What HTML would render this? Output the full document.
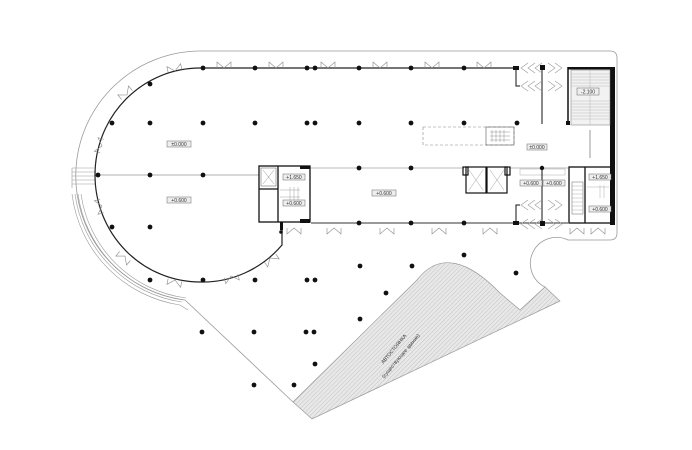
<!DOCTYPE html>
<html><head><meta charset="utf-8"><style>
html,body{margin:0;padding:0;background:#fff;width:692px;height:450px;overflow:hidden}
svg{display:block}
text{font-family:"Liberation Sans","DejaVu Sans",sans-serif;font-size:5px;fill:#333}
.lb{fill:#eee;stroke:#666;stroke-width:0.5}
</style></head><body>
<svg width="692" height="450" viewBox="0 0 692 450" xmlns="http://www.w3.org/2000/svg">
<defs>
<pattern id="h" width="3" height="3" patternUnits="userSpaceOnUse" patternTransform="rotate(45)">
<rect width="3" height="3" fill="#e8e8e8"/><line x1="0" y1="0" x2="0" y2="3" stroke="#bbb" stroke-width="0.8"/>
</pattern>
<g id="d"><polyline points="-7,0 -7,-6 0,0 7,-6 7,0" fill="none" stroke="#888" stroke-width="0.6"/></g>
</defs>

<path d="M185,300 A125,125 0 0 1 200,51 L610,51 Q617,51 617,58 L617,233 Q617,240 610,240 L568,240 A23,23 0 0 0 545,287" fill="none" stroke="#999" stroke-width="0.8"/>
<path d="M185,300 L293,402" fill="none" stroke="#999" stroke-width="0.8"/>
<g fill="none" stroke="#999" stroke-width="0.6">
<path d="M72,168 L94,168 M72,172 L96,172 M72,176 L96,176 M72,180 L96,180 M72,184 L96,184 M72,168 L72,188"/>
<path d="M72,194 A128,128 0 0 0 180,305"/>
<path d="M75,194 A126,126 0 0 0 182,302"/>
<path d="M78,194 A124,124 0 0 0 184,300"/>
<path d="M81,194 A122,122 0 0 0 186,298"/>
<path d="M180,305 L188,310"/>
</g>

<path d="M293,402 L312,419 L560,301 L545,287 L520,310 L500,293 C470,262 440,250 417,280 Z" fill="url(#h)" stroke="#999" stroke-width="0.7"/>
<text transform="translate(395,350) rotate(-50)" text-anchor="middle">АВТОСТОЯНКА</text>
<text transform="translate(402,357) rotate(-50)" text-anchor="middle">(существующее здание)</text>

<path d="M200,68 L514,68 M200,68 A105,107 0 0 0 200,282 A105,107 0 0 0 282,245 L282,226" fill="none" stroke="#222" stroke-width="1.2"/>
<line x1="96" y1="175" x2="259" y2="175" stroke="#666" stroke-width="0.6"/>
<line x1="311" y1="168" x2="464" y2="168" stroke="#777" stroke-width="0.6"/>
<line x1="509" y1="168" x2="568" y2="168" stroke="#777" stroke-width="0.6"/>
<line x1="311" y1="223" x2="568" y2="223" stroke="#333" stroke-width="1"/>
<rect x="300" y="219" width="10" height="4" fill="#111"/>
<rect x="300" y="166" width="10" height="3" fill="#111"/>
<g fill="none" stroke="#111" stroke-width="1.3">
<rect x="259" y="166" width="51" height="56"/>
<line x1="278" y1="166" x2="278" y2="222"/>
<line x1="259" y1="189" x2="278" y2="189"/>
</g>
<rect x="261" y="168" width="15" height="18" fill="none" stroke="#555" stroke-width="0.5"/>
<path d="M263,170 L274,184 M274,170 L263,184" stroke="#777" stroke-width="0.4"/>
<g stroke="#888" stroke-width="0.4"><line x1="280" y1="190" x2="300" y2="190"/><line x1="280" y1="197" x2="300" y2="197"/><line x1="290" y1="187" x2="290" y2="200"/><line x1="294" y1="187" x2="294" y2="200"/><line x1="298" y1="187" x2="298" y2="200"/></g>
<rect x="280" y="222" width="3" height="8" fill="#111"/>
<rect x="283" y="174" width="22" height="6" class="lb"/><text x="294" y="179" text-anchor="middle">+1.650</text>
<rect x="283" y="200" width="22" height="6" class="lb"/><text x="294" y="205" text-anchor="middle">+0.600</text>

<g fill="none" stroke="#111" stroke-width="1.2"><rect x="466" y="167" width="20" height="26"/><rect x="487" y="167" width="20" height="26"/><rect x="463" y="167" width="5" height="8"/><rect x="505" y="167" width="5" height="8"/></g>
<path d="M469,170 L483,190 M483,170 L469,190 M490,170 L504,190 M504,170 L490,190" stroke="#888" stroke-width="0.4"/>
<rect x="423" y="127" width="91" height="18" fill="none" stroke="#888" stroke-width="0.6" stroke-dasharray="3,2"/>
<rect x="486" y="127" width="28" height="18" fill="none" stroke="#555" stroke-width="0.6"/>
<g stroke="#777" stroke-width="0.4"><line x1="490" y1="132" x2="510" y2="132"/><line x1="490" y1="136" x2="510" y2="136"/><line x1="490" y1="140" x2="510" y2="140"/><line x1="492" y1="130" x2="492" y2="142"/><line x1="496" y1="130" x2="496" y2="142"/><line x1="500" y1="130" x2="500" y2="142"/><line x1="504" y1="130" x2="504" y2="142"/></g>
<rect x="520" y="169" width="45" height="6" fill="none" stroke="#999" stroke-width="0.4"/>

<g stroke="#111" fill="none" stroke-width="1">
<line x1="542" y1="67" x2="542" y2="124"/><line x1="542" y1="167" x2="542" y2="224"/>
<path d="M516,68 L516,86 L520,86"/><path d="M516,224 L516,205 L520,205"/>
</g>
<rect x="513" y="66" width="6" height="4" fill="#111"/><rect x="513" y="221" width="6" height="4" fill="#111"/>
<g stroke="#999" stroke-width="0.6" fill="none">
<path d="M528,63 L521,68 L528,73 M535,63 L528,68 L535,73 M542,63 L535,68 L542,73 M548,63 L555,68 L548,73 M555,63 L562,68 L555,73"/>
<path d="M528,81 L521,86 L528,91 M535,81 L528,86 L535,91 M542,81 L535,86 L542,91 M548,81 L555,86 L548,91 M555,81 L562,86 L555,91"/>
<path d="M528,200 L521,205 L528,210 M535,200 L528,205 L535,210 M542,200 L535,205 L542,210 M548,200 L555,205 L548,210 M555,200 L562,205 L555,210"/>
<path d="M528,219 L521,224 L528,229 M535,219 L528,224 L535,229 M542,219 L535,224 L542,229 M548,219 L555,224 L548,229 M555,219 L562,224 L555,229"/>
</g>
<rect x="540" y="65" width="5" height="5" fill="#111"/><rect x="540" y="221" width="5" height="5" fill="#111"/>
<circle cx="542" cy="168" r="2.2" fill="#111"/>
<rect x="520" y="180" width="22" height="6" class="lb"/><text x="531" y="185" text-anchor="middle">+0.600</text>
<rect x="543" y="180" width="22" height="6" class="lb"/><text x="554" y="185" text-anchor="middle">+0.600</text>
<rect x="527" y="144" width="20" height="6" class="lb"/><text x="537" y="149" text-anchor="middle">±0.000</text>

<rect x="568" y="67" width="45" height="2.5" fill="#111"/>
<rect x="610" y="67" width="5" height="158" fill="#111"/>
<line x1="568" y1="67" x2="568" y2="125" stroke="#111" stroke-width="1.5"/>
<rect x="566" y="121" width="4" height="4" fill="#111"/>
<rect x="571" y="70" width="39" height="55" fill="#f2f2f2" stroke="#777" stroke-width="0.5"/>
<g stroke="#aaa" stroke-width="0.4">
<line x1="571" y1="74" x2="610" y2="74"/><line x1="571" y1="77" x2="610" y2="77"/><line x1="571" y1="80" x2="610" y2="80"/><line x1="571" y1="83" x2="610" y2="83"/><line x1="571" y1="86" x2="610" y2="86"/>
<line x1="571" y1="101" x2="610" y2="101"/><line x1="571" y1="104" x2="610" y2="104"/><line x1="571" y1="107" x2="610" y2="107"/><line x1="571" y1="110" x2="610" y2="110"/><line x1="571" y1="113" x2="610" y2="113"/><line x1="571" y1="116" x2="610" y2="116"/><line x1="571" y1="119" x2="610" y2="119"/><line x1="590" y1="70" x2="590" y2="125"/>
</g>
<rect x="577" y="88" width="22" height="7" class="lb"/><text x="588" y="93.5" text-anchor="middle">-2.100</text>
<line x1="590" y1="130" x2="590" y2="158" stroke="#555" stroke-width="0.6"/>
<g fill="none" stroke="#111" stroke-width="1.3"><rect x="569" y="167" width="42" height="56"/><line x1="585" y1="167" x2="585" y2="223"/></g>
<rect x="572" y="182" width="11" height="32" fill="none" stroke="#666" stroke-width="0.5"/>
<g stroke="#999" stroke-width="0.4"><line x1="572" y1="186" x2="583" y2="186"/><line x1="572" y1="190" x2="583" y2="190"/><line x1="572" y1="194" x2="583" y2="194"/><line x1="572" y1="198" x2="583" y2="198"/><line x1="572" y1="202" x2="583" y2="202"/><line x1="572" y1="206" x2="583" y2="206"/><line x1="572" y1="210" x2="583" y2="210"/><line x1="587" y1="187" x2="609" y2="187"/><line x1="600" y1="185" x2="600" y2="198"/><line x1="604" y1="185" x2="604" y2="198"/></g>
<rect x="589" y="174" width="22" height="6" class="lb"/><text x="600" y="179" text-anchor="middle">+1.650</text>
<rect x="589" y="206" width="22" height="6" class="lb"/><text x="600" y="211" text-anchor="middle">+0.600</text>

<rect x="167" y="141" width="24" height="6" class="lb"/><text x="179" y="146" text-anchor="middle">±0.000</text>
<rect x="167" y="197" width="24" height="6" class="lb"/><text x="179" y="202" text-anchor="middle">+0.600</text>
<rect x="372" y="190" width="24" height="6" class="lb"/><text x="384" y="195" text-anchor="middle">+0.600</text>

<g stroke="#888" stroke-width="0.6" fill="none">
<use href="#d" x="224" y="68"/><use href="#d" x="276" y="68"/><use href="#d" x="328" y="68"/><use href="#d" x="380" y="68"/><use href="#d" x="432" y="68"/><use href="#d" x="484" y="68"/>
<use href="#d" transform="translate(175,71) rotate(-12)"/>
<use href="#d" transform="translate(127,95) rotate(-40)"/>
<use href="#d" transform="translate(102,146) rotate(-75)"/>
<use href="#d" transform="translate(102,206) rotate(-105)"/>
<use href="#d" transform="translate(125,256) rotate(-140)"/>
<use href="#d" transform="translate(175,280) rotate(-168)"/>
<use href="#d" transform="translate(231,276) rotate(-195)"/>
<use href="#d" transform="translate(270,258) rotate(-215)"/>
<use href="#d" transform="translate(294,228) rotate(180)"/>
<use href="#d" transform="translate(334,228) rotate(180)"/>
<use href="#d" transform="translate(387,228) rotate(180)"/>
<use href="#d" transform="translate(439,228) rotate(180)"/>
<use href="#d" transform="translate(490,228) rotate(180)"/>
<use href="#d" transform="translate(577,228) rotate(180)"/>
<use href="#d" transform="translate(598,228) rotate(180)"/>
</g>

<g fill="#111">
<circle cx="203" cy="68" r="2.4"/><circle cx="255" cy="68" r="2.4"/><circle cx="307" cy="68" r="2.4"/><circle cx="315" cy="68" r="2.4"/><circle cx="359" cy="68" r="2.4"/><circle cx="411" cy="68" r="2.4"/><circle cx="464" cy="68" r="2.4"/>
<circle cx="150" cy="84" r="2.4"/>
<circle cx="112" cy="123" r="2.4"/><circle cx="150" cy="123" r="2.4"/><circle cx="203" cy="123" r="2.4"/><circle cx="255" cy="123" r="2.4"/><circle cx="307" cy="123" r="2.4"/><circle cx="315" cy="123" r="2.4"/><circle cx="359" cy="123" r="2.4"/><circle cx="411" cy="123" r="2.4"/><circle cx="464" cy="123" r="2.4"/><circle cx="517" cy="123" r="2.4"/>
<circle cx="98" cy="175" r="2.4"/><circle cx="150" cy="175" r="2.4"/><circle cx="203" cy="175" r="2.4"/>
<circle cx="359" cy="168" r="2.4"/><circle cx="411" cy="168" r="2.4"/><circle cx="359" cy="223" r="2.4"/><circle cx="411" cy="223" r="2.4"/><circle cx="464" cy="223" r="2.4"/>
<circle cx="112" cy="227" r="2.4"/><circle cx="150" cy="227" r="2.4"/>
<circle cx="150" cy="280" r="2.4"/><circle cx="203" cy="280" r="2.4"/><circle cx="255" cy="280" r="2.4"/><circle cx="307" cy="280" r="2.4"/><circle cx="315" cy="280" r="2.4"/>
<circle cx="360" cy="266" r="2.4"/><circle cx="412" cy="266" r="2.4"/><circle cx="464" cy="255" r="2.4"/><circle cx="516" cy="273" r="2.4"/><circle cx="386" cy="293" r="2.4"/><circle cx="360" cy="319" r="2.4"/>
<circle cx="202" cy="332" r="2.4"/><circle cx="254" cy="332" r="2.4"/><circle cx="306" cy="332" r="2.4"/><circle cx="314" cy="332" r="2.4"/><circle cx="315" cy="364" r="2.4"/><circle cx="254" cy="385" r="2.4"/><circle cx="294" cy="385" r="2.4"/>
<circle cx="281" cy="232" r="1.8"/>
</g>
</svg>
</body></html>
